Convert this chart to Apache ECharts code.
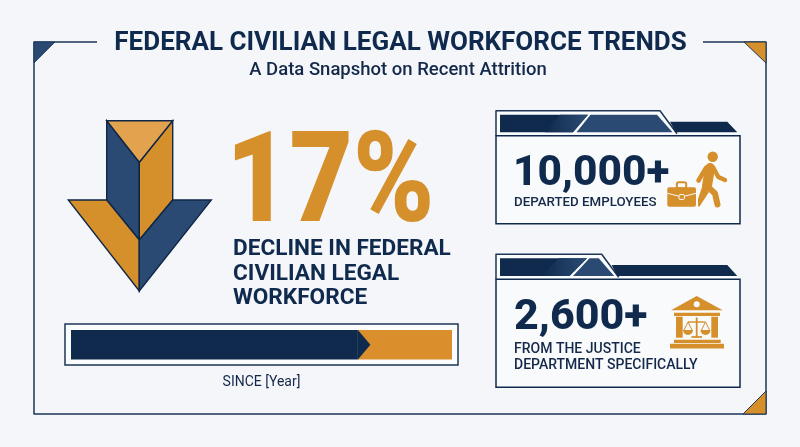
<!DOCTYPE html>
<html>
<head>
<meta charset="utf-8">
<style>html,body{margin:0;padding:0;background:#f4f6fa}#c{width:800px;height:447px}</style>
<script src="https://cdn.jsdelivr.net/npm/echarts@6/dist/echarts.min.js"></script>
</head>
<body>
<div id="c"></div>
<script>
var titleText = "FEDERAL CIVILIAN LEGAL WORKFORCE TRENDS";
var subtitleText = "A Data Snapshot on Recent Attrition";
var headlineValue = "17%";
var headlineLines = ["DECLINE IN FEDERAL", "CIVILIAN LEGAL", "WORKFORCE"];
var barLabel = "SINCE [Year]";
var barCategories = ["Workforce"];
var barRemaining = [75.3];
var barDeclined = [24.7];
var card1Value = "10,000+";
var card1Lines = ["DEPARTED EMPLOYEES"];
var card2Value = "2,600+";
var card2Lines = ["FROM THE JUSTICE", "DEPARTMENT SPECIFICALLY"];

var NAVY = "#0f2a4d", BLUE = "#2a4a73", LINE = "#1d3657", ORANGE = "#d58f2b", LIGHT = "#e3a24e", BG = "#f4f6fa", INK = "#14294a";
var g = [];
function poly(pts, fill, stroke, lw, z) { g.push({type:"polygon", z:z||1, shape:{points:pts}, style:{fill:fill, stroke:stroke||null, lineWidth:lw||0, lineJoin:"miter"}}); }
function line(pts, stroke, lw, cap, z) { g.push({type:"polyline", z:z||1, shape:{points:pts}, style:{fill:null, stroke:stroke, lineWidth:lw, lineCap:cap||"butt", lineJoin:"round"}}); }
function rect(x,y,w,h,fill,stroke,lw,r,z) { g.push({type:"rect", z:z||1, shape:{x:x,y:y,width:w,height:h,r:r||0}, style:{fill:fill, stroke:stroke||null, lineWidth:lw||0}}); }
function circ(cx,cy,r,fill,z) { g.push({type:"circle", z:z||1, shape:{cx:cx,cy:cy,r:r}, style:{fill:fill}}); }
function text(t,x,y,size,weight,fill,align,sx) {
  var e = {type:"text", z:5, x:x, y:y-size*0.735, style:{text:t, fontFamily:"Roboto", fontSize:size, fontWeight:weight, fill:fill, textAlign:align||"left"}};
  if (sx) { e.scaleX = sx; }
  g.push(e);
}

// frame
line([[97,42],[34,42],[34,414],[766,414],[766,42],[703,42]], LINE, 1.5);
poly([[34,42],[55,42],[34,63]], BLUE, LINE, 0.8);
poly([[744,42],[766,42],[766,63]], ORANGE, LINE, 1);
poly([[743,414],[766,391],[766,414]], ORANGE, LINE, 1);

// titles
text(titleText, 400.5, 50, 26, 700, NAVY, "center");
text(subtitleText, 398, 74, 18.5, 500, INK, "center");

// down arrow
var S = "#0f2747";
poly([[106.7,120.7],[139.3,162.3],[139.3,240],[106.7,200]], BLUE, S, 1.4);
poly([[172.7,120.7],[172.7,200],[139.3,240],[139.3,162.3]], ORANGE, S, 1.4);
poly([[106.7,120.7],[172.7,120.7],[139.3,162.3]], LIGHT, S, 1.4);
poly([[68.3,200],[106.7,200],[139.3,240],[139.3,291]], ORANGE, S, 1.4);
poly([[172.7,200],[211.3,200],[139.3,291],[139.3,240]], BLUE, S, 1.4);

// headline
text(headlineValue, 226, 219, 126, 900, ORANGE, "left", 0.87);
headlineLines.forEach(function(t,i){ text(t, 233, [254,279,303][i], 22.6, 700, NAVY); });

// progress frame and label
rect(65,324,393,41,"#fbfcfd",LINE,1.5);
text(barLabel, 261.5, 386, 14, 400, INK, "center");

// cards
function card(o) {
  var t=o.tabTop, b=o.bodyTop;
  poly([[496,b],[496,t],[o.tabX,t],[o.tabX+15,o.rY],[727.3,o.rY],[737.3,b-3],[740,b]], "#fbfcfd", null, 0);
  line([[496,b],[496,t],[o.tabX,t],[o.tabX+17,b-2]], LINE, 1.5);
  rect(496,b,244,o.bodyH,"#f9fafc",NAVY,1.5);
  var y1=t+4, y2=b-3.4;
  poly([[500,y1],[o.m1,y1],[o.m2,y2],[500,y2]], NAVY);
  poly([[o.m1-28,y1],[o.m1,y1],[o.m2,y2],[o.m2-28,y2]], {type:"linear",x:0,y:0,x2:1,y2:0,colorStops:[{offset:0,color:NAVY},{offset:1,color:"#2c4b74"}]});
  poly([[o.m1+2.5,y1],[o.tabX-3,y1],[o.tabX+12.5,y2],[o.m2+3.5,y2]], BLUE);
  poly([[o.tabX+10,o.rY],[727.3,o.rY],[737.3,y2],[o.tabX+15.5,y2]], NAVY);
}
card({tabTop:110.7,bodyTop:135.7,bodyH:88,tabX:660,rY:121.7,m1:588,m2:573});
card({tabTop:254.3,bodyTop:279.3,bodyH:108,tabX:601.7,rY:265,m1:587,m2:569.5});

text(card1Value, 513, 184, 42.5, 800, NAVY);
text(card1Lines[0], 514, 206, 13.3, 500, INK);
text(card2Value, 514, 328.5, 43, 800, NAVY);
card2Lines.forEach(function(t,i){ text(t, 514, [353,369][i], 14, 500, INK); });

// person with briefcase
circ(712.7,156.7,5.2,ORANGE,2);
line([[710,168],[707,186]], ORANGE, 10, "round", 2);
line([[706,168],[698.5,180.5]], ORANGE, 4.6, "round", 2);
line([[713.5,168],[718.3,177],[725,180]], ORANGE, 4.4, "round", 2);
line([[707,186],[715,193.5],[717.5,204.5]], ORANGE, 6, "round", 2);
poly([[702,187],[709,192],[699.5,206.5],[698,206.5],[698,199]], ORANGE, null, 0, 2);
rect(676.8,182.3,9.4,6,null,ORANGE,2,2,2);
rect(667.3,187.3,28.7,19.4,ORANGE,null,0,2,2);
line([[667.3,193.3],[681.7,196.9],[696,193.3]], "#f9fafc", 1, "butt", 3);
rect(679,194.6,5.4,4.8,ORANGE,"#f9fafc",1,1,3);

// courthouse with scales
poly([[696.7,296],[722.7,310.3],[671,310.3]], ORANGE, null, 0, 2);
circ(696.7,304.3,3,"#f9fafc",3);
rect(674,312.7,46,3.4,ORANGE,null,0,0,2);
rect(676,316.7,6.7,21,ORANGE,null,0,0,2);
rect(711.3,316.7,6.7,21,ORANGE,null,0,0,2);
rect(674,339.7,46.7,3.4,ORANGE,null,0,0,2);
rect(670,343.7,54,4.8,ORANGE,null,0,0,2);
line([[696.7,317.5],[696.7,336.5]], ORANGE, 1.8, "butt", 2);
line([[691.5,337],[702,337]], ORANGE, 1.8, "butt", 2);
line([[688,322],[705.5,322]], ORANGE, 1.4, "butt", 2);
line([[684,330],[688,322],[692,330]], ORANGE, 1, "butt", 2);
line([[701.5,330],[705.5,322],[709.5,330]], ORANGE, 1, "butt", 2);
[[688,330],[705.5,330]].forEach(function(p){
  g.push({type:"sector", z:2, shape:{cx:p[0],cy:p[1],r:5,r0:0,startAngle:0,endAngle:Math.PI}, style:{fill:ORANGE}});
});

var chart = echarts.init(document.getElementById("c"), null, {renderer:"canvas"});
chart.setOption({
  backgroundColor: BG,
  animation: false,
  grid: {left:71, top:330, width:381, height:29.5, containLabel:false},
  xAxis: {type:"value", min:0, max:100, show:false},
  yAxis: {type:"category", data:barCategories, show:false},
  graphic: {elements:g},
  series: [
    {type:"bar", stack:"w", barWidth:"100%", data:barRemaining, itemStyle:{color:NAVY}, z:3, silent:true},
    {type:"bar", stack:"w", barWidth:"100%", data:barDeclined, itemStyle:{color:"#da8f2c"}, z:2, silent:true},
    {type:"custom", data:barRemaining, z:4, silent:true,
     renderItem:function(p,api){
       var pt=api.coord([api.value(0),0]), h=api.size([0,1])[1];
       return {type:"polygon", shape:{points:[[pt[0],pt[1]-h/2],[pt[0]+12.5,pt[1]],[pt[0],pt[1]+h/2]]}, style:{fill:NAVY}};
     },
     encode:{x:0}
    }
  ]
});
</script>
</body>
</html>
